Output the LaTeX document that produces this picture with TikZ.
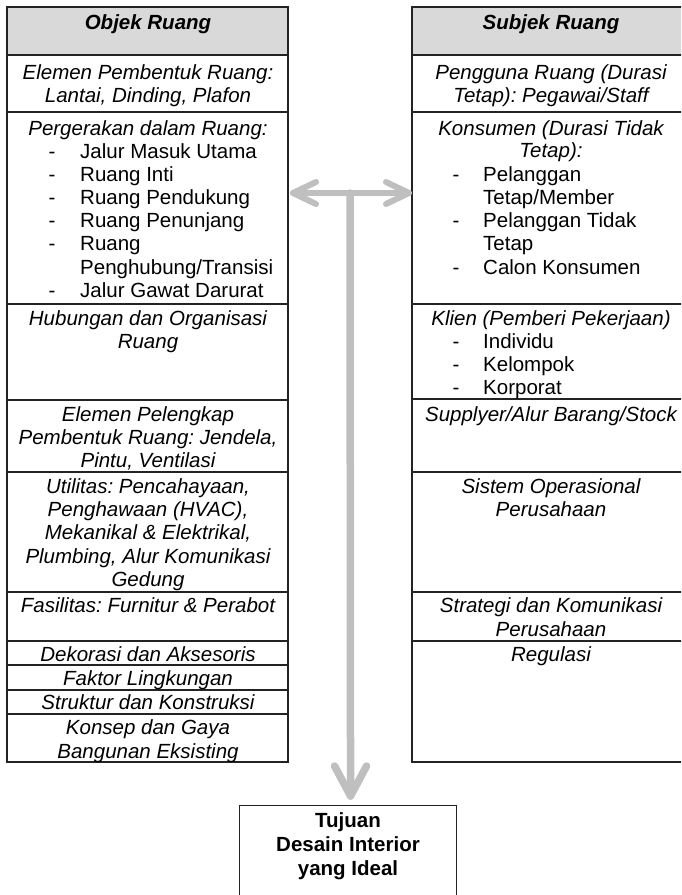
\documentclass[tikz,border=0pt]{standalone}
\usepackage{fontspec}
\setmainfont{Liberation Sans}
\usetikzlibrary{calc}
\definecolor{arrgray}{RGB}{191,191,191}
\definecolor{hdrgray}{RGB}{217,217,217}
\definecolor{linec}{RGB}{35,35,35}
\frenchspacing
\begin{document}
\begin{tikzpicture}[x=1pt,y=-1pt,
  txt/.style={anchor=base, inner sep=0pt, font=\fontsize{20.5}{23}\selectfont},
  itx/.style={txt, font=\fontsize{20.5}{23}\selectfont\itshape},
  hdx/.style={txt, font=\fontsize{20.5}{23}\selectfont\bfseries\itshape},
  bdx/.style={txt, font=\fontsize{20.5}{23}\selectfont\bfseries},
  lsx/.style={txt, anchor=base west},
  cellline/.style={draw=linec, line width=1.1pt},
  arrh/.style={draw=arrgray, line width=6pt, line cap=round, line join=round},
  arrv/.style={draw=arrgray, line width=7.5pt, line cap=round, line join=round}]
\useasboundingbox (0,0) rectangle (681,895);
\clip (0,0) rectangle (681,895);

% ---------------- left table ----------------
\fill[hdrgray] (7,7) rectangle (288,55);
\draw[cellline] (7,7) rectangle (288,762);
\foreach \yy in {55,112,304,400,472,592,641,665,690,714}
  \draw[cellline] (7,\yy) -- (288,\yy);

\node[hdx] (L0) at (148,29) {Objek Ruang};
\node[itx] (L1a) at (148,79) {Elemen Pembentuk Ruang:};
\node[itx] (L1b) at (148,102) {Lantai, Dinding, Plafon};
\node[itx] (L2a) at (148,135) {Pergerakan dalam Ruang:};
\node[txt] (L2d1) at (52,158) {-};
\node[lsx] (L2b) at (80,158) {Jalur Masuk Utama};
\node[txt] (L2d2) at (52,181) {-};
\node[lsx] (L2c) at (80,181) {Ruang Inti};
\node[txt] (L2d3) at (52,204) {-};
\node[lsx] (L2e) at (80,204) {Ruang Pendukung};
\node[txt] (L2d4) at (52,227) {-};
\node[lsx] (L2f) at (80,227) {Ruang Penunjang};
\node[txt] (L2d5) at (52,250) {-};
\node[lsx] (L2g) at (80,250) {Ruang};
\node[lsx] (L2h) at (80,274) {Penghubung/Transisi};
\node[txt] (L2d6) at (52,297) {-};
\node[lsx] (L2i) at (80,297) {Jalur Gawat Darurat};
\node[itx] (L3a) at (148,325) {Hubungan dan Organisasi};
\node[itx] (L3b) at (148,348) {Ruang};
\node[itx] (L4a) at (148,421) {Elemen Pelengkap};
\node[itx] (L4b) at (148,444) {Pembentuk Ruang: Jendela,};
\node[itx] (L4c) at (148,467) {Pintu, Ventilasi};
\node[itx] (L5a) at (148,493) {Utilitas: Pencahayaan,};
\node[itx] (L5b) at (148,516) {Penghawaan (HVAC),};
\node[itx] (L5c) at (148,539) {Mekanikal \& Elektrikal,};
\node[itx] (L5d) at (148,563) {Plumbing, Alur Komunikasi};
\node[itx] (L5e) at (148,586) {Gedung};
\node[itx] (L6) at (148,612) {Fasilitas: Furnitur \& Perabot};
\node[itx] (L7) at (148,661) {Dekorasi dan Aksesoris};
\node[itx] (L8) at (148,685) {Faktor Lingkungan};
\node[itx] (L9) at (148,709) {Struktur dan Konstruksi};
\node[itx] (L10a) at (148,734) {Konsep dan Gaya};
\node[itx] (L10b) at (148,758) {Bangunan Eksisting};

% ---------------- right table ----------------
\fill[hdrgray] (412,7) rectangle (690,55);
\draw[cellline] (412,7) rectangle (690,762);
\foreach \yy in {55,112,304,399,472,592,641}
  \draw[cellline] (412,\yy) -- (690,\yy);

\node[hdx] (R0) at (551,29) {Subjek Ruang};
\node[itx] (R1a) at (551,79) {Pengguna Ruang (Durasi};
\node[itx] (R1b) at (551,102) {Tetap): Pegawai/Staff};
\node[itx] (R2a) at (551,135) {Konsumen (Durasi Tidak};
\node[itx] (R2b) at (551,157) {Tetap):};
\node[txt] (R2d1) at (456,181) {-};
\node[lsx] (R2c) at (483,181) {Pelanggan};
\node[lsx] (R2e) at (483,204) {Tetap/Member};
\node[txt] (R2d2) at (456,227) {-};
\node[lsx] (R2f) at (483,227) {Pelanggan Tidak};
\node[lsx] (R2g) at (483,250) {Tetap};
\node[txt] (R2d3) at (456,274) {-};
\node[lsx] (R2h) at (483,274) {Calon Konsumen};
\node[itx] (R3a) at (551,325) {Klien (Pemberi Pekerjaan)};
\node[txt] (R3d1) at (456,348) {-};
\node[lsx] (R3b) at (483,348) {Individu};
\node[txt] (R3d2) at (456,371) {-};
\node[lsx] (R3c) at (483,371) {Kelompok};
\node[txt] (R3d3) at (456,394) {-};
\node[lsx] (R3e) at (483,394) {Korporat};
\node[itx] (R4) at (551,421) {Supplyer/Alur Barang/Stock};
\node[itx] (R5a) at (551,493) {Sistem Operasional};
\node[itx] (R5b) at (551,516) {Perusahaan};
\node[itx] (R6a) at (551,612) {Strategi dan Komunikasi};
\node[itx] (R6b) at (551,636) {Perusahaan};
\node[itx] (R7) at (551,661) {Regulasi};

% ---------------- goal box ----------------
\node[draw=linec, line width=1.1pt, rectangle, minimum width=217pt,
      minimum height=120pt, anchor=north west, inner sep=0pt] (goal) at (239,805) {};
\node[bdx] (G1) at (348,827) {Tujuan};
\node[bdx] (G2) at (348,851) {Desain Interior};
\node[bdx] (G3) at (348,875) {yang Ideal};

% ---------------- arrows ----------------
\coordinate (tipL) at (293,193);
\coordinate (tipR) at (409,193);
\coordinate (jn) at (350,193);
\coordinate (tipD) at ($(goal.north)+(2.5,-9)$);
\draw[arrh] (tipL) -- (tipR);
\draw[arrh] ($(tipL)+(23,-11)$) -- (tipL) -- ($(tipL)+(23,11)$);
\draw[arrh] ($(tipR)+(-23,-11)$) -- (tipR) -- ($(tipR)+(-23,11)$);
\draw[arrv] (jn) -- (tipD);
\draw[arrv] ($(tipD)+(-16,-30)$) -- (tipD) -- ($(tipD)+(16,-30)$);
\end{tikzpicture}
\end{document}
